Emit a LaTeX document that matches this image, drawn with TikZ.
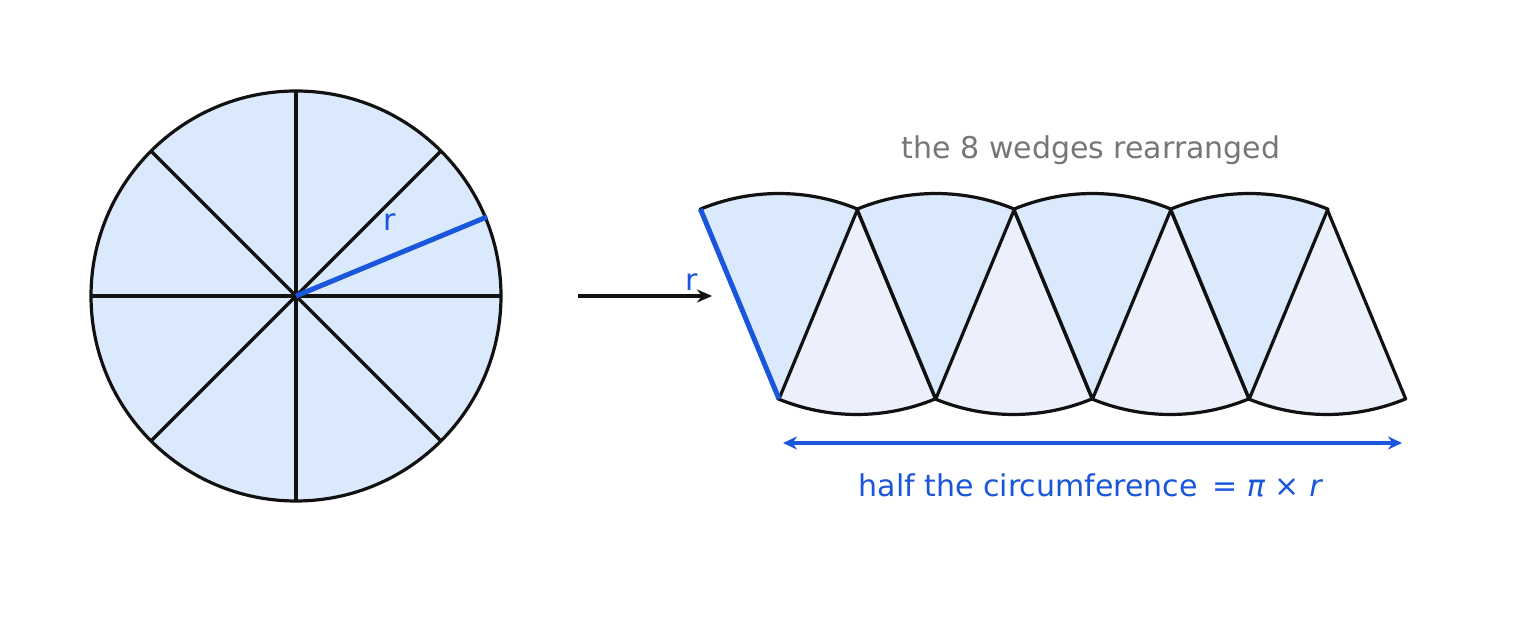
\documentclass[tikz,border=0pt]{standalone}
\usepackage{fontspec}
\setmainfont{DejaVu Sans}
\usetikzlibrary{arrows.meta}
\definecolor{wfill}{HTML}{DBE9FD}
\definecolor{lfill}{HTML}{ECF0FD}
\definecolor{bl}{HTML}{1A56DB}
\definecolor{ink}{HTML}{111111}
\definecolor{gr}{HTML}{767676}
\begin{document}
\begin{tikzpicture}[x=1pt,y=1pt,
  edge/.style={draw=ink,line width=3.2pt,line join=round},
  blue line/.style={draw=bl,line width=5pt},
  lbl/.style={font=\fontsize{30}{34}\selectfont}]
\useasboundingbox (0,0) rectangle (1528,624);
% circle
\coordinate (c) at (296,328);
\fill[wfill] (c) circle[radius=205];
\foreach \a in {0,45,...,315} \draw[edge] (c) -- ++(\a:205);
\draw[edge] (c) circle[radius=205];
\draw[blue line] (c) -- ++(22.5:207) coordinate (re);
\node[lbl,text=bl] (r1) at (390,402) {r};
% arrow
\coordinate (a1) at (578,328);
\coordinate (a2) at (712,328);
\draw[ink,line width=3.6pt,-{Stealth[length=15pt,width=13pt]}] (a1) -- (a2);
% wedges
\foreach \i in {0,...,3} {
  \pgfmathsetmacro\tx{856.75+156.75*\i}
  \filldraw[edge,fill=lfill] (\tx,415) -- ++(-112.5:205.5) arc[start angle=-112.5,end angle=-67.5,radius=205.5] -- cycle;
}
\foreach \i in {0,...,3} {
  \pgfmathsetmacro\bx{779+156.75*\i}
  \filldraw[edge,fill=wfill] (\bx,225) -- ++(112.5:205.5) arc[start angle=112.5,end angle=67.5,radius=205.5] -- cycle;
}
\coordinate (wa) at (779,225);
\coordinate (wb) at (700.4,414.9);
\draw[blue line] (wa) -- (wb);
\node[lbl,text=bl] (r2) at (692,342) {r};
\node[lbl,text=gr] (title) at (1091,474) {the 8 wedges rearranged};
\coordinate (d1) at (783,181);
\coordinate (d2) at (1402,181);
\draw[bl,line width=3.6pt,{Stealth[length=14pt,width=13pt]}-{Stealth[length=14pt,width=13pt]}] (d1) -- (d2);
\node[lbl,text=bl] (half) at (1091,139) {half the circumference\, = \textit{π} × \textit{r}};
\end{tikzpicture}
\end{document}
